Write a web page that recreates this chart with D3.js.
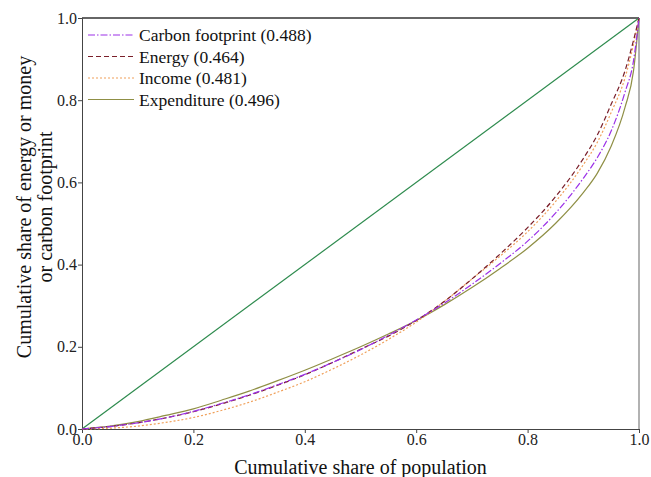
<!DOCTYPE html>
<html>
<head>
<meta charset="utf-8">
<script src="https://cdn.jsdelivr.net/npm/d3@7"></script>
<style>
  body { margin: 0; background: #fff; }
  .axis path, .axis line { stroke: #444; }
</style>
</head>
<body>
<svg width="651" height="477"></svg>
<script>
'use strict';

const FONT = "'Liberation Serif', 'Times New Roman', serif";

// population share (x) and cumulative shares
const popShare    = [0, 0.05, 0.1, 0.15, 0.2, 0.25, 0.3, 0.35, 0.4, 0.45, 0.5, 0.55, 0.6, 0.65, 0.7, 0.75, 0.8, 0.85, 0.9, 0.925, 0.95, 0.975, 0.99, 1];
const carbon      = [0, 0.006, 0.015, 0.027, 0.043, 0.062, 0.083, 0.107, 0.133, 0.162, 0.193, 0.228, 0.265, 0.306, 0.352, 0.402, 0.457, 0.525, 0.61, 0.66, 0.725, 0.82, 0.895, 1];
const energy      = [0, 0.006, 0.015, 0.027, 0.042, 0.061, 0.082, 0.106, 0.132, 0.162, 0.194, 0.226, 0.264, 0.31, 0.365, 0.425, 0.49, 0.565, 0.658, 0.715, 0.79, 0.872, 0.945, 1];
const income      = [0, 0.002, 0.007, 0.016, 0.028, 0.045, 0.065, 0.089, 0.115, 0.146, 0.18, 0.218, 0.26, 0.31, 0.365, 0.42, 0.48, 0.553, 0.643, 0.697, 0.77, 0.855, 0.935, 1];
const expenditure = [0, 0.007, 0.018, 0.033, 0.049, 0.07, 0.092, 0.117, 0.143, 0.171, 0.2, 0.231, 0.264, 0.302, 0.344, 0.39, 0.44, 0.5, 0.575, 0.622, 0.688, 0.783, 0.87, 1];
const equality    = [0, 1];

const seriesNames = ["Carbon footprint (0.488)", "Energy (0.464)", "Income (0.481)", "Expenditure (0.496)"];
const tickValues  = [0, 0.2, 0.4, 0.6, 0.8, 1.0];

const styles = [
    { color: "#9b30e8", dash: "7,2,1.5,2" },
    { color: "#7a1f2a", dash: "5,3" },
    { color: "#f0a05a", dash: "2,2" },
    { color: "#8f8f45", dash: null }
];

const svg = d3.select("svg"),
    margin = { top: 18, right: 12, bottom: 48, left: 82 },
    width = +svg.attr("width") - margin.left - margin.right,
    height = +svg.attr("height") - margin.top - margin.bottom;

const x = d3.scaleLinear().domain([0, 1]).range([0, width]),
    y = d3.scaleLinear().domain([0, 1]).range([height, 0]);

const g = svg.append("g").attr("transform", `translate(${margin.left},${margin.top})`);

// frame: top dark, right light gray
g.append("line").attr("x1", 0).attr("x2", width).attr("y1", 0).attr("y2", 0)
    .attr("stroke", "#333").attr("stroke-width", 1.5);
g.append("line").attr("x1", width).attr("x2", width).attr("y1", 0).attr("y2", height)
    .attr("stroke", "#999").attr("stroke-width", 1.5);

const fmt = d3.format(".1f");
g.append("g").attr("class", "axis")
    .attr("transform", `translate(0,${height})`)
    .call(d3.axisBottom(x).tickValues(tickValues).tickFormat(fmt).tickSize(4).tickPadding(1))
    .attr("font-family", FONT).attr("font-size", 16);
g.append("g").attr("class", "axis")
    .call(d3.axisLeft(y).tickValues(tickValues).tickFormat(fmt).tickSize(4).tickPadding(1))
    .attr("font-family", FONT).attr("font-size", 16);
g.selectAll(".axis text").attr("fill", "#222");

const line = d3.line()
    .curve(d3.curveMonotoneX)
    .x(d => x(d[0]))
    .y(d => y(d[1]));

// equality line
g.append("path")
    .datum(equality.map(v => [v, v]))
    .attr("fill", "none").attr("stroke", "#2e8b4e").attr("stroke-width", 1.2)
    .attr("d", line);

const curves = [carbon, energy, income, expenditure];
// expenditure first, carbon on top
[3, 2, 1, 0].forEach(k => {
    g.append("path")
        .datum(popShare.map((p, i) => [p, curves[k][i]]))
        .attr("fill", "none")
        .attr("stroke", styles[k].color)
        .attr("stroke-width", 1.2)
        .attr("stroke-dasharray", styles[k].dash)
        .attr("d", line);
});

// legend
const legend = g.append("g").attr("transform", "translate(6,17)");
seriesNames.forEach((name, k) => {
    const row = legend.append("g").attr("transform", `translate(0,${k * 21.5})`);
    row.append("line").attr("x1", 0).attr("x2", 46).attr("y1", 0).attr("y2", 0)
        .attr("stroke", styles[k].color)
        .attr("stroke-width", 1.2)
        .attr("stroke-dasharray", styles[k].dash);
    row.append("text").attr("x", 51).attr("y", 6)
        .attr("font-family", FONT).attr("font-size", 17.5).attr("fill", "#111")
        .text(name);
});

// axis titles
svg.append("text")
    .attr("x", margin.left + width / 2).attr("y", 474)
    .attr("text-anchor", "middle")
    .attr("font-family", FONT).attr("font-size", 20).attr("fill", "#111")
    .text("Cumulative share of population");

const yt = svg.append("text")
    .attr("transform", "translate(0,207) rotate(-90)")
    .attr("text-anchor", "middle")
    .attr("font-family", FONT).attr("font-size", 20).attr("fill", "#111");
yt.append("tspan").attr("x", 0).attr("y", 31).text("Cumulative share of energy or money");
yt.append("tspan").attr("x", 0).attr("y", 52).text("or carbon footprint");
</script>
</body>
</html>
